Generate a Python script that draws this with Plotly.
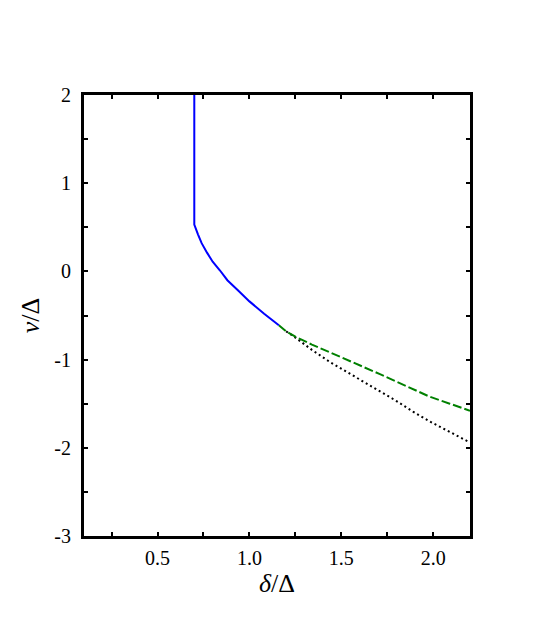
import plotly.graph_objects as go

# Data
blue_x = [0.70, 0.70, 0.72, 0.74, 0.77, 0.80, 0.84, 0.88, 0.94, 1.00, 1.08, 1.16]
blue_y = [2.00, 0.53, 0.42, 0.32, 0.21, 0.11, 0.01, -0.10, -0.22, -0.34, -0.48, -0.61]

green_x = [1.16, 1.20, 1.25, 1.34, 1.44, 1.53, 1.62, 1.71, 1.80, 1.89, 1.98, 2.09, 2.20]
green_y = [-0.61, -0.68, -0.74, -0.83, -0.92, -1.00, -1.08, -1.165, -1.25, -1.335, -1.42, -1.50, -1.58]

dot_x = [1.20, 1.25, 1.34, 1.44, 1.53, 1.62, 1.71, 1.80, 1.89, 1.98, 2.09, 2.20]
dot_y = [-0.68, -0.75, -0.89, -1.03, -1.14, -1.25, -1.36, -1.47, -1.59, -1.70, -1.82, -1.94]

x_tickvals = [0.25, 0.5, 0.75, 1.0, 1.25, 1.5, 1.75, 2.0]
x_ticktext = ["", "0.5", "", "1.0", "", "1.5", "", "2.0"]
y_tickvals = [-3, -2.5, -2, -1.5, -1, -0.5, 0, 0.5, 1, 1.5, 2]
y_ticktext = ["-3", "", "-2", "", "-1", "", "0", "", "1", "", "2"]

fig = go.Figure()
fig.add_trace(go.Scatter(x=dot_x, y=dot_y, mode="lines",
                         line=dict(color="black", width=2, dash="2px,3px")))
fig.add_trace(go.Scatter(x=green_x, y=green_y, mode="lines",
                         line=dict(color="rgb(0,128,0)", width=2, dash="9px,3px")))
fig.add_trace(go.Scatter(x=blue_x, y=blue_y, mode="lines",
                         line=dict(color="rgb(0,0,255)", width=2)))

family = "Liberation Serif"
font = dict(family=family, size=20, color="black")
axis_common = dict(showline=True, linecolor="black", linewidth=3, mirror="ticks",
                   ticks="inside", ticklen=4, tickwidth=2, tickcolor="black",
                   showgrid=False, zeroline=False, tickfont=font)

fig.update_layout(
    width=545, height=624,
    margin=dict(l=76, r=83, t=87, b=96),
    paper_bgcolor="white", plot_bgcolor="white",
    showlegend=False,
    font=font,
    xaxis=dict(range=[0.1, 2.2], tickvals=x_tickvals, ticktext=x_ticktext,
               ticklabelstandoff=2,
               title=dict(text="<i>δ</i>/Δ", font=dict(family=family, size=26), standoff=0),
               **axis_common),
    yaxis=dict(range=[-3, 2], tickvals=y_tickvals, ticktext=y_ticktext,
               ticklabelstandoff=6,
               title=dict(text="<i>ν</i>/Δ", font=dict(family=family, size=26), standoff=8),
               **axis_common),
)

fig.write_html("out.html")
